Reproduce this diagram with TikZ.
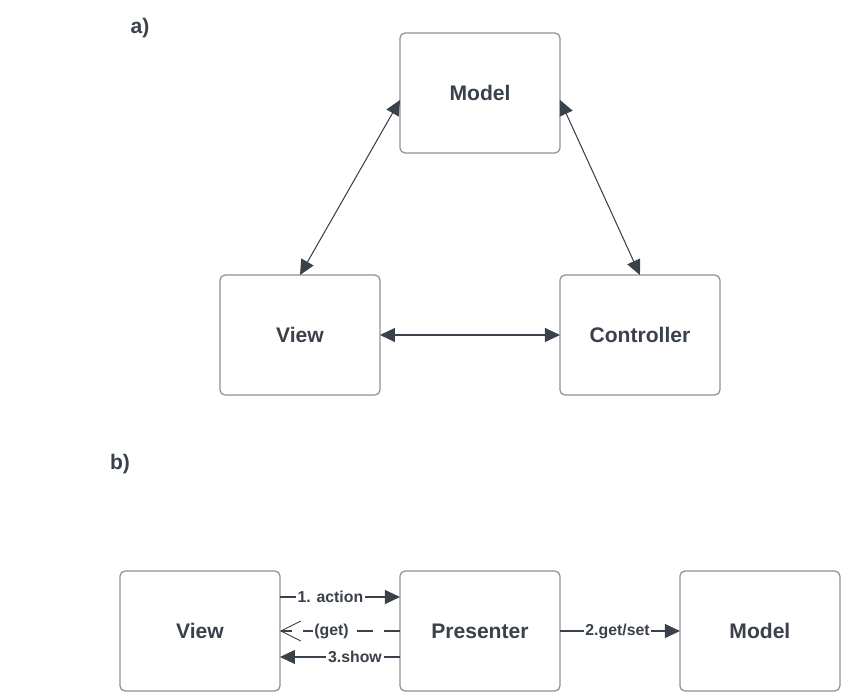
\documentclass[tikz,border=0pt]{standalone}
\usepackage{fontspec}
\setmainfont{Liberation Sans}
\usetikzlibrary{arrows.meta,positioning}
\definecolor{inkdark}{HTML}{3A414A}
\definecolor{framegray}{HTML}{8E9196}

\begin{document}
\begin{tikzpicture}[
    x=0.02cm, y=-0.02cm,
    node distance=2.4cm,
    block/.style={rectangle, draw=framegray, line width=0.7pt, outer sep=0pt, fill=white, text=inkdark, minimum width=3.2cm, minimum height=2.4cm, rounded corners=0.1cm, font=\fontsize{12}{14}\selectfont\bfseries},
    tag/.style={text=inkdark, font=\fontsize{12}{14}\selectfont\bfseries},
    arrow/.style={draw=inkdark, line width=0.6pt, -{Triangle[length=0.3cm,width=0.28cm]}},
    biarrow/.style={arrow, {Triangle[length=0.3cm,width=0.28cm]}-{Triangle[length=0.3cm,width=0.28cm]}},
    openarrow/.style={draw=inkdark, line width=0.6pt, dashed, dash pattern=on 0.32cm off 0.22cm, -{Straight Barb[length=0.4cm,width=0.4cm,line width=0.5pt]}},
    lbl/.style={text=inkdark, fill=white, inner sep=1pt, font=\fontsize{9}{10}\selectfont\bfseries}
]
    \useasboundingbox (0,0) rectangle (841,692);

    % a) MVC
    \node[tag] (taga) at (140,28) {a)};
    \node[block] (model) at (480,93) {Model};
    \node[block] (view) at (300,335) {View};
    \node[block, right=3.6cm of view] (controller) {Controller};

    \draw[biarrow] ([yshift=-0.14cm]model.west) -- (view.north);
    \draw[biarrow] ([yshift=-0.14cm]model.east) -- (controller.north);
    \draw[biarrow] (view.east) -- (controller.west);

    % b) MVP
    \node[tag] (tagb) at (120,464) {b)};
    \node[block] (viewb) at (200,631) {View};
    \node[block, right=of viewb] (presenter) {Presenter};
    \node[block, right=of presenter] (modelb) {Model};

    \draw[arrow] ([yshift=0.68cm]viewb.east) -- node[lbl, pos=0.42] {1. action} ([yshift=0.68cm]viewb.east -| presenter.west);
    \draw[openarrow] (presenter.west |- viewb.east) -- node[lbl, pos=0.57] {(get)} (viewb.east);
    \draw[arrow] ([yshift=-0.52cm]viewb.east -| presenter.west) -- node[lbl, pos=0.375] {3.show} ([yshift=-0.52cm]viewb.east);
    \draw[arrow] (presenter.east |- modelb.west) -- node[lbl, pos=0.48] {2.get/set} (modelb.west);
\end{tikzpicture}
\end{document}
